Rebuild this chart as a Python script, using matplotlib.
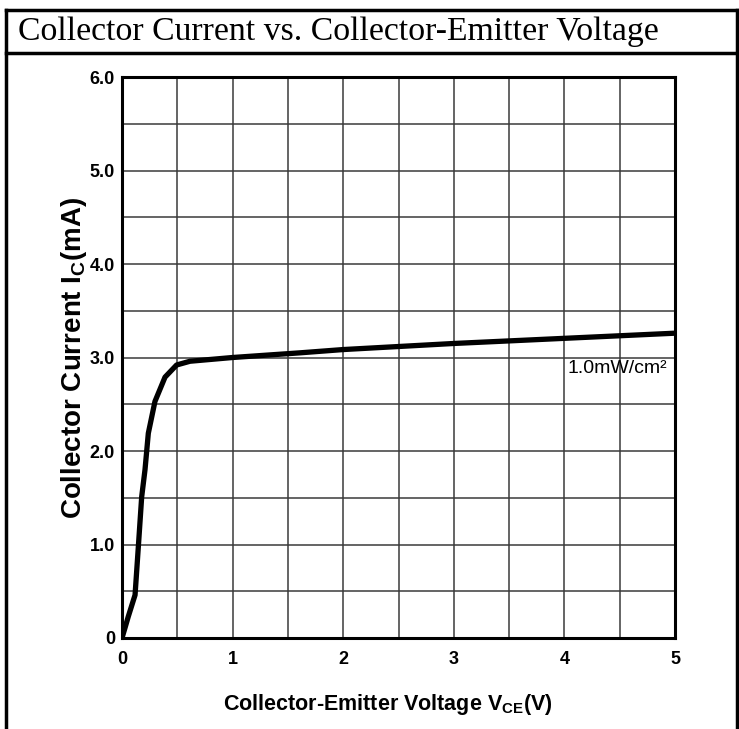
import numpy as np
import matplotlib.pyplot as plt
import matplotlib.lines as mlines

# data
vce = [0.0, 0.03, 0.057, 0.118, 0.148, 0.178, 0.208, 0.238, 0.298, 0.389,
       0.494, 0.615, 1.0, 1.61, 2.0, 3.0, 4.0, 5.0]
ic = [0.0, 0.12, 0.23, 0.46, 0.98, 1.51, 1.80, 2.19, 2.53, 2.79,
      2.92, 2.96, 3.00, 3.05, 3.085, 3.15, 3.205, 3.26]
xticks = [0, 1, 2, 3, 4, 5]
xticklabels = ['0', '1', '2', '3', '4', '5']
yticks = [0, 1, 2, 3, 4, 5, 6]
yticklabels = ['0', '1.0', '2.0', '3.0', '4.0', '5.0', '6.0']
title = 'Collector Current vs. Collector-Emitter Voltage'
curve_label = '1.0mW/cm\u00b2'

plt.rcParams['font.family'] = ['Liberation Sans', 'DejaVu Sans']

fig = plt.figure(figsize=(7.39, 7.29), dpi=100)
W, H = 739, 729

# table-cell border around the chart
def fline(x0, y0, x1, y1, lw=2.5):
    fig.add_artist(mlines.Line2D([x0 / W, x1 / W], [1 - y0 / H, 1 - y1 / H],
                                 color='black', lw=lw, transform=fig.transFigure))

fline(6, 10, 737, 10)
fline(6, 53, 737, 53)
fline(6, 10, 6, 729)
fline(737, 10, 737, 729)

fig.text(18 / W, 1 - 32 / H, title, family='Liberation Serif', fontsize=24.3,
         va='center', ha='left')

ax = fig.add_axes([122 / W, 1 - 638 / H, 553 / W, 561 / H])
ax.plot(vce, ic, color='black', lw=3.8, solid_capstyle='round', zorder=3)
ax.set_xlim(0, 5)
ax.set_ylim(0, 6)
ax.set_xticks(xticks)
ax.set_xticks(np.arange(0.5, 5, 1), minor=True)
ax.set_yticks(yticks)
ax.set_yticks(np.arange(0.5, 6, 1), minor=True)
ax.grid(True, which='both', color='#3a3a3a', lw=1.1)
ax.set_xticklabels(xticklabels, fontweight='bold', fontsize=13)
ax.set_yticklabels(yticklabels, fontweight='bold', fontsize=13)
ax.tick_params(axis='x', which='both', length=0, pad=9)
ax.tick_params(axis='y', which='both', length=0, pad=5)
for s in ax.spines.values():
    s.set_linewidth(2.2)

ax.set_xlabel('Collector-Emitter Voltage V$_{\\mathregular{CE}}$(V)',
              fontweight='bold', fontsize=15.5)
ax.xaxis.set_label_coords(0.481, -0.097)
ax.set_ylabel('Collector Current I$_{\\mathregular{C}}$(mA)',
              fontweight='bold', fontsize=20)
ax.yaxis.set_label_coords(-0.06, 0.5)

ax.text(4.03, 2.88, curve_label, fontsize=14, fontweight='medium',
        va='center', ha='left')

fig.savefig('out.png', dpi=100)
